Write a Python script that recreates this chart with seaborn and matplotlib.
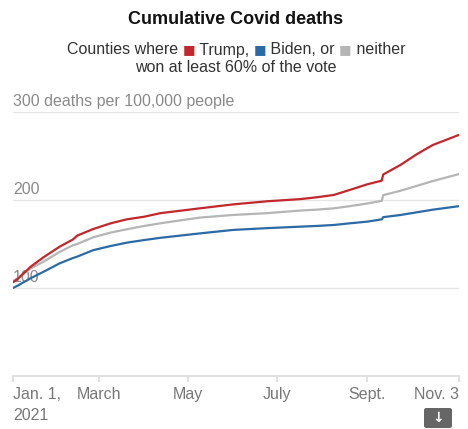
import pandas as pd
import seaborn as sns
import matplotlib.pyplot as plt
from matplotlib.patches import FancyBboxPatch

sns.set_theme(style="white")
plt.rcParams['font.family'] = ['Liberation Sans', 'DejaVu Sans']

dates = ["2021-01-01", "2021-01-04", "2021-01-13", "2021-01-22", "2021-02-02",
         "2021-02-11", "2021-02-14", "2021-02-25", "2021-03-09", "2021-03-20",
         "2021-04-01", "2021-04-12", "2021-05-09", "2021-06-01", "2021-06-24",
         "2021-07-17", "2021-07-28", "2021-08-09", "2021-08-20", "2021-09-01",
         "2021-09-11", "2021-09-12", "2021-09-24", "2021-10-05", "2021-10-16",
         "2021-11-03"]
trump = [106.5, 110, 124, 135, 147, 155, 159.5, 167, 173.5, 178, 181, 185, 190.5,
         195, 198.5, 201, 203, 205.7, 211.4, 217.8, 222, 229, 240, 252, 262.5, 274]
neither = [108, 111, 122, 130, 141, 148.5, 150, 157.6, 163, 166.7, 170.5, 173.5, 180,
           183, 185, 188, 189, 190.5, 193, 196, 199, 205.5, 210.6, 216, 221.5, 229.5]
biden = [100, 102.5, 111, 118.5, 128, 134, 135.6, 143, 147.7, 151.5, 154.5, 157, 162,
         166, 168, 169.7, 170.5, 171.6, 173.5, 175.4, 178, 180.5, 183, 186, 189, 193]

groups = ["Trump", "Biden", "neither"]
colors = {"Trump": "#c1272d", "Biden": "#2c6aa6", "neither": "#b5b5b5"}

tick_dates = ["2021-01-01", "2021-03-01", "2021-05-01", "2021-07-01", "2021-09-01", "2021-11-03"]
tick_labels = ["Jan. 1,\n2021", "March", "May", "July", "Sept.", "Nov. 3"]
y_ticks = [100, 200, 300]
y_labels = ["100", "200", "300 deaths per 100,000 people"]

df = pd.DataFrame({
    "date": pd.to_datetime(dates * 3),
    "deaths": trump + biden + neither,
    "group": [g for g in groups for _ in dates],
})

fig = plt.figure(figsize=(4.68, 4.29), dpi=100)
ax = fig.add_axes([13 / 468, 1 - 376 / 429, 446 / 468, 264 / 429])

for y, lab in zip(y_ticks, y_labels):
    ax.axhline(y, color="#e6e6e6", lw=1, zorder=0)
    ax.annotate(lab, (pd.Timestamp(dates[0]), y), xytext=(0, 2), textcoords="offset points",
                ha="left", va="bottom", fontsize=11.5, color="#8a8a8a", zorder=1)

sns.lineplot(data=df, x="date", y="deaths", hue="group", hue_order=["neither", "Biden", "Trump"],
             palette=colors, lw=1.6, legend=False, ax=ax, zorder=3)

ax.set_xlim(pd.Timestamp(dates[0]), pd.Timestamp(dates[-1]))
ax.set_ylim(0, 300)
ax.set_yticks([])
ax.set_xlabel("")
ax.set_ylabel("")
for s in ["top", "right", "left"]:
    ax.spines[s].set_visible(False)
ax.spines["bottom"].set_color("#dddddd")
ax.set_xticks(pd.to_datetime(tick_dates))
ax.set_xticklabels(tick_labels, fontsize=11.5, color="#777777", linespacing=1.45)
ax.tick_params(axis="x", bottom=True, length=4, color="#dddddd", pad=4)
xt = ax.get_xticklabels()
xt[0].set_ha("left")
xt[-1].set_ha("right")

fig.text(236 / 468, 1 - 20 / 429, "Cumulative Covid deaths", ha="center", va="center",
         fontsize=13, fontweight="bold", color="#121212")

# subtitle with colored squares, laid out piece by piece then centred
pieces = [("Counties where ", "#333333"), ("■", colors["Trump"]), (" Trump, ", "#333333"),
          ("■", colors["Biden"]), (" Biden, or ", "#333333"), ("■", colors["neither"]),
          (" neither", "#333333")]
texts = []
for txt, c in pieces:
    if txt == "■":
        t = fig.text(0, 0, txt, fontsize=9.5, color=c, ha="left", va="baseline", family="DejaVu Sans")
    else:
        t = fig.text(0, 0, txt, fontsize=11.5, color=c, ha="left", va="baseline")
    texts.append(t)
fig.canvas.draw()
r = fig.canvas.get_renderer()
widths = [t.get_window_extent(r).width for t in texts]
x = 236 - sum(widths) / 2
for t, w, (txt, _) in zip(texts, widths, pieces):
    t.set_x(x / 468)
    t.set_y(1 - (54.5 if txt != "■" else 53.5) / 429)
    x += w
fig.text(236 / 468, 1 - 68 / 429, "won at least 60% of the vote", ha="center", va="center",
         fontsize=11.5, color="#333333")

# download button
btn = FancyBboxPatch((424 / 468, 1 - 428 / 429), 28 / 468, 20 / 429,
                     boxstyle="round,pad=0,rounding_size=0.005", transform=fig.transFigure,
                     fc="#666666", ec="none")
fig.patches.append(btn)
fig.text(438 / 468, 1 - 418 / 429, "↓", ha="center", va="center", fontsize=10,
         fontweight="bold", color="white", family="DejaVu Sans")

fig.savefig("out.png", dpi=100)
